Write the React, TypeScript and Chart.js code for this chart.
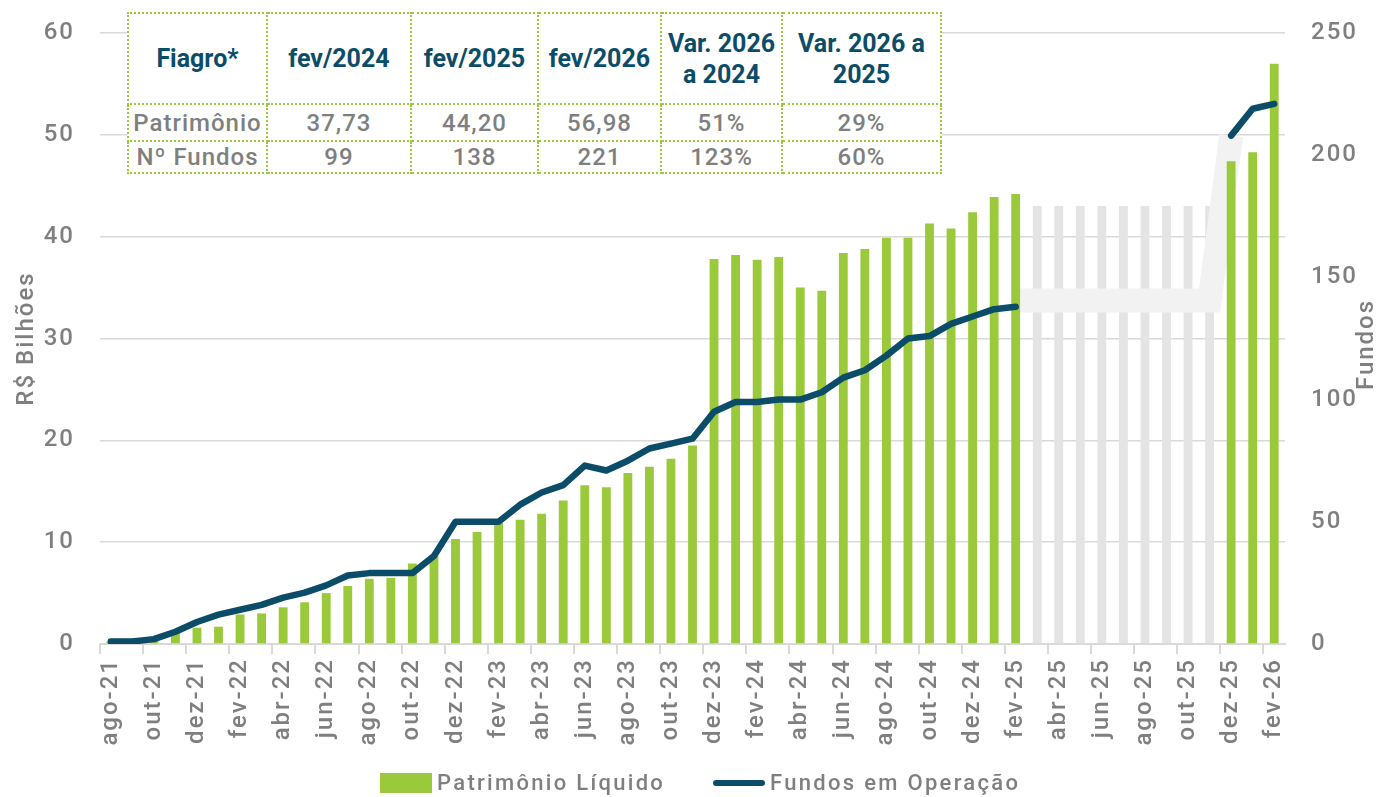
import React, { useEffect, useRef } from "react";
import { Chart, registerables } from "chart.js";

Chart.register(...registerables);

const months = [
  "ago-21", "set-21", "out-21", "nov-21", "dez-21",
  "jan-22", "fev-22", "mar-22", "abr-22", "mai-22", "jun-22", "jul-22", "ago-22", "set-22", "out-22", "nov-22", "dez-22",
  "jan-23", "fev-23", "mar-23", "abr-23", "mai-23", "jun-23", "jul-23", "ago-23", "set-23", "out-23", "nov-23", "dez-23",
  "jan-24", "fev-24", "mar-24", "abr-24", "mai-24", "jun-24", "jul-24", "ago-24", "set-24", "out-24", "nov-24", "dez-24",
  "jan-25", "fev-25", "mar-25", "abr-25", "mai-25", "jun-25", "jul-25", "ago-25", "set-25", "out-25", "nov-25", "dez-25",
  "jan-26", "fev-26",
];

// Patrimônio Líquido (R$ bilhões)
const patrimonio: (number | null)[] = [
  0.2, 0.3, 0.5, 1.1, 1.6,
  1.7, 2.9, 3.0, 3.6, 4.1, 5.0, 5.7, 6.4, 6.5, 7.9, 8.7, 10.3,
  11.0, 11.9, 12.2, 12.8, 14.1, 15.6, 15.4, 16.8, 17.4, 18.2, 19.5, 37.8,
  38.2, 37.73, 38.0, 35.0, 34.7, 38.4, 38.8, 39.9, 39.9, 41.3, 40.8, 42.4,
  43.9, 44.2, null, null, null, null, null, null, null, null, null, 47.4,
  48.3, 56.98,
];

// Months without data (placeholder grey bars)
const patrimonioSemDados: (number | null)[] = [
  null, null, null, null, null,
  null, null, null, null, null, null, null, null, null, null, null, null,
  null, null, null, null, null, null, null, null, null, null, null, null,
  null, null, null, null, null, null, null, null, null, null, null, null,
  null, null, 43, 43, 43, 43, 43, 43, 43, 43, 43, null,
  null, null,
];

// Fundos em Operação
const fundos: (number | null)[] = [
  1, 1, 2, 5, 9,
  12, 14, 16, 19, 21, 24, 28, 29, 29, 29, 36, 50,
  50, 50, 57, 62, 65, 73, 71, 75, 80, 82, 84, 95,
  99, 99, 100, 100, 103, 109, 112, 118, 125, 126, 131, 134,
  137, 138, null, null, null, null, null, null, null, null, null, 208,
  219, 221,
];

// Placeholder band for the months without data
const fundosSemDados: (number | null)[] = [
  null, null, null, null, null,
  null, null, null, null, null, null, null, null, null, null, null, null,
  null, null, null, null, null, null, null, null, null, null, null, null,
  null, null, null, null, null, null, null, null, null, null, null, null,
  null, 140.5, 140.5, 140.5, 140.5, 140.5, 140.5, 140.5, 140.5, 140.5, 140.5, 208,
  null, null,
];

const tableHeader = ["Fiagro*", "fev/2024", "fev/2025", "fev/2026", "Var. 2026\na 2024", "Var. 2026 a\n2025"];
const tableRows = [
  ["Patrimônio", "37,73", "44,20", "56,98", "51%", "29%"],
  ["Nº Fundos", "99", "138", "221", "123%", "60%"],
];
const colWidths = [139, 144, 127, 123, 121, 159];

const GREEN = "#9bc93c";
const DARK = "#0b4d68";
const GREY_TEXT = "#7f7f7f";
const GRID = "#d9d9d9";
const FONT = "Roboto";

const spacingPlugin = {
  id: "spacing",
  beforeLayout(chart: any) {
    chart.ctx.letterSpacing = "2px";
  },
  beforeDraw(chart: any) {
    chart.ctx.letterSpacing = "2px";
  },
  afterDraw(chart: any) {
    const ctx = chart.ctx;
    const area = chart.chartArea;
    ctx.save();
    ctx.letterSpacing = "2px";
    ctx.font = `500 24px ${FONT}`;
    ctx.fillStyle = GREY_TEXT;
    ctx.textAlign = "center";
    ctx.textBaseline = "middle";
    ctx.save();
    ctx.translate(27, (area.top + area.bottom) / 2);
    ctx.rotate(-Math.PI / 2);
    ctx.fillText("R$ Bilhões", 0, 0);
    ctx.restore();
    ctx.save();
    ctx.translate(chart.width - 13, (area.top + area.bottom) / 2 + 6);
    ctx.rotate(-Math.PI / 2);
    ctx.fillText("Fundos", 0, 0);
    ctx.restore();
    ctx.restore();
  },
};

export default function App() {
  const ref = useRef<HTMLCanvasElement>(null);

  useEffect(() => {
    document.body.style.margin = "0";
    const tickFont = { family: FONT, size: 24, weight: 500 as any };
    const chart = new Chart(ref.current as HTMLCanvasElement, {
      data: {
        labels: months,
        datasets: [
          {
            type: "line",
            label: "Fundos em Operação",
            data: fundos,
            yAxisID: "y1",
            borderColor: DARK,
            backgroundColor: DARK,
            borderWidth: 6.5,
            pointRadius: 0,
            borderCapStyle: "round",
            borderJoinStyle: "round",
            spanGaps: false,
            order: 0,
          },
          {
            type: "bar",
            label: "Patrimônio Líquido",
            data: patrimonio,
            yAxisID: "y",
            backgroundColor: GREEN,
            barPercentage: 0.41,
            categoryPercentage: 1,
            grouped: false,
            order: 1,
          },
          {
            type: "line",
            label: "sem dados",
            data: fundosSemDados,
            yAxisID: "y1",
            borderColor: "#f2f2f2",
            borderWidth: 24,
            pointRadius: 0,
            borderCapStyle: "butt",
            borderJoinStyle: "miter",
            order: 2,
          },
          {
            type: "bar",
            label: "sem dados barras",
            data: patrimonioSemDados,
            yAxisID: "y",
            backgroundColor: "#e4e4e4",
            barPercentage: 0.41,
            categoryPercentage: 1,
            grouped: false,
            order: 3,
          },
        ],
      } as any,
      options: {
        responsive: false,
        animation: false,
        layout: { padding: { top: 33, bottom: 50, left: 0, right: 0 } },
        plugins: {
          legend: { display: false },
          tooltip: { enabled: false },
        },
        scales: {
          x: {
            type: "category",
            offset: true,
            grid: {
              display: true,
              drawOnChartArea: false,
              drawTicks: true,
              tickLength: 10,
              offset: true,
              lineWidth: 2,
              color: (c: any) => (c.index % 2 === 0 ? GRID : "rgba(0,0,0,0)"),
            },
            border: { display: true, color: GRID, width: 2 },
            ticks: {
              autoSkip: false,
              minRotation: 90,
              maxRotation: 90,
              padding: 4,
              color: GREY_TEXT,
              font: tickFont,
              callback: (_v: any, i: number) => (i % 2 === 0 ? months[i] : ""),
            },
            afterFit: (s: any) => {
              s.height = 103;
            },
          },
          y: {
            position: "left",
            min: 0,
            max: 60,
            ticks: {
              stepSize: 10,
              padding: 0,
              color: GREY_TEXT,
              font: tickFont,
            },
            grid: {
              color: GRID,
              lineWidth: 1.5,
              drawTicks: true,
              tickLength: 25,
              tickColor: "rgba(0,0,0,0)",
            },
            border: { display: false },
            afterFit: (s: any) => {
              s.width = 100;
            },
          },
          y1: {
            position: "right",
            min: 0,
            max: 250,
            ticks: {
              stepSize: 50,
              padding: 0,
              color: GREY_TEXT,
              font: tickFont,
            },
            grid: {
              drawOnChartArea: false,
              drawTicks: true,
              tickLength: 26,
              tickColor: "rgba(0,0,0,0)",
            },
            border: { display: false },
            afterFit: (s: any) => {
              s.width = 95;
            },
          },
        },
      } as any,
      plugins: [spacingPlugin],
    });
    return () => chart.destroy();
  }, []);

  const cellBorder = `2px dotted ${GREEN}`;

  return (
    <div style={{ position: "relative", width: 1380, height: 797, fontFamily: FONT, overflow: "hidden" }}>
      <canvas ref={ref} width={1380} height={797} style={{ display: "block" }} />
      <table
        style={{
          position: "absolute",
          left: 127,
          top: 12,
          width: 813,
          tableLayout: "fixed",
          borderCollapse: "collapse",
          background: "#fff",
        }}
      >
        <colgroup>
          {colWidths.map((w, i) => (
            <col key={i} style={{ width: w }} />
          ))}
        </colgroup>
        <tbody>
          <tr style={{ height: 91 }}>
            {tableHeader.map((h, i) => (
              <td
                key={i}
                style={{
                  border: cellBorder,
                  textAlign: "center",
                  padding: 0,
                  fontWeight: 700,
                  fontSize: 25,
                  lineHeight: "31px",
                  color: DARK,
                  whiteSpace: "pre",
                }}
              >
                {h}
              </td>
            ))}
          </tr>
          {tableRows.map((row, r) => (
            <tr key={r} style={{ height: r === 0 ? 37 : 32 }}>
              {row.map((c, i) => (
                <td
                  key={i}
                  style={{
                    border: cellBorder,
                    textAlign: "center",
                    padding: 0,
                    fontSize: 24,
                    fontWeight: 500,
                    lineHeight: "28px",
                    letterSpacing: 1,
                    color: GREY_TEXT,
                    whiteSpace: "nowrap",
                  }}
                >
                  {c}
                </td>
              ))}
            </tr>
          ))}
        </tbody>
      </table>
      <div style={{ position: "absolute", left: 380, top: 773, width: 52, height: 20, background: GREEN }} />
      <span
        style={{
          position: "absolute",
          left: 437,
          top: 772,
          fontSize: 22,
          fontWeight: 500,
          lineHeight: "22px",
          letterSpacing: 2.3,
          color: GREY_TEXT,
          whiteSpace: "nowrap",
        }}
      >
        Patrimônio Líquido
      </span>
      <div style={{ position: "absolute", left: 713, top: 780, width: 52, height: 6, borderRadius: 3, background: DARK }} />
      <span
        style={{
          position: "absolute",
          left: 770,
          top: 772,
          fontSize: 22,
          fontWeight: 500,
          lineHeight: "22px",
          letterSpacing: 2.3,
          color: GREY_TEXT,
          whiteSpace: "nowrap",
        }}
      >
        Fundos em Operação
      </span>
    </div>
  );
}
